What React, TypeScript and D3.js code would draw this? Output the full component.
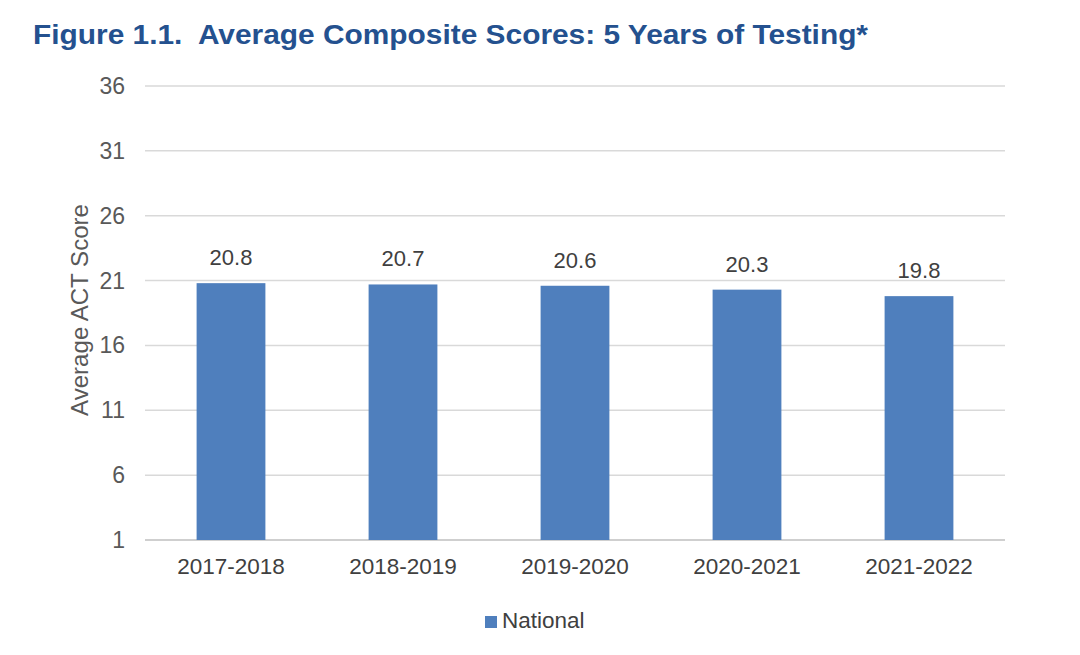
import React, { useEffect, useRef } from "react";
import * as d3 from "d3";

const years = ["2017-2018", "2018-2019", "2019-2020", "2020-2021", "2021-2022"];
const national = [20.8, 20.7, 20.6, 20.3, 19.8];
const yTicks = [1, 6, 11, 16, 21, 26, 31, 36];

const W = 1080;
const H = 655;
const margin = { top: 86, right: 75, bottom: 115, left: 145 };
const font = "Liberation Sans, Arial, sans-serif";

export default function App() {
  const svgRef = useRef<SVGSVGElement>(null);

  useEffect(() => {
    const svg = d3.select(svgRef.current);
    svg.selectAll("*").remove();

    const x = d3
      .scaleBand()
      .domain(years)
      .range([margin.left, W - margin.right])
      .paddingInner(0.6)
      .paddingOuter(0.3);

    const y = d3
      .scaleLinear()
      .domain([1, 36])
      .range([H - margin.bottom, margin.top]);

    svg
      .append("rect")
      .attr("width", W)
      .attr("height", H)
      .attr("fill", "#ffffff");

    // title
    svg
      .append("text")
      .attr("x", 33)
      .attr("y", 44)
      .attr("font-family", font)
      .attr("font-weight", "bold")
      .attr("font-size", 28)
      .attr("textLength", 835)
      .attr("lengthAdjust", "spacingAndGlyphs")
      .attr("fill", "#24518f")
      .attr("xml:space", "preserve")
      .text("Figure 1.1.  Average Composite Scores: 5 Years of Testing*");

    // gridlines
    svg
      .append("g")
      .selectAll("line")
      .data(yTicks)
      .join("line")
      .attr("x1", margin.left)
      .attr("x2", W - margin.right)
      .attr("y1", (d) => y(d))
      .attr("y2", (d) => y(d))
      .attr("stroke", (d) => (d === 1 ? "#bfbfbf" : "#d9d9d9"))
      .attr("stroke-width", 1.5);

    // y tick labels
    svg
      .append("g")
      .selectAll("text")
      .data(yTicks)
      .join("text")
      .attr("x", 125)
      .attr("y", (d) => y(d))
      .attr("dy", "0.35em")
      .attr("text-anchor", "end")
      .attr("font-family", font)
      .attr("font-size", 23)
      .attr("fill", "#595959")
      .text((d) => d);

    // y axis title
    svg
      .append("text")
      .attr("transform", "translate(88,310) rotate(-90)")
      .attr("text-anchor", "middle")
      .attr("font-family", font)
      .attr("font-size", 23)
      .attr("textLength", 212)
      .attr("lengthAdjust", "spacingAndGlyphs")
      .attr("fill", "#595959")
      .text("Average ACT Score");

    // bars
    svg
      .append("g")
      .selectAll("rect")
      .data(national)
      .join("rect")
      .attr("x", (d, i) => x(years[i])!)
      .attr("y", (d) => y(d))
      .attr("width", x.bandwidth())
      .attr("height", (d) => y(1) - y(d))
      .attr("fill", "#4f7fbd");

    // value labels
    svg
      .append("g")
      .selectAll("text")
      .data(national)
      .join("text")
      .attr("x", (d, i) => x(years[i])! + x.bandwidth() / 2)
      .attr("y", (d) => y(d) - 18)
      .attr("text-anchor", "middle")
      .attr("font-family", font)
      .attr("font-size", 22)
      .attr("fill", "#404040")
      .text((d) => d.toFixed(1));

    // x labels
    svg
      .append("g")
      .selectAll("text")
      .data(years)
      .join("text")
      .attr("x", (d) => x(d)! + x.bandwidth() / 2)
      .attr("y", 574)
      .attr("text-anchor", "middle")
      .attr("font-family", font)
      .attr("font-size", 22.5)
      .attr("fill", "#404040")
      .text((d) => d);

    // legend
    const legend = svg.append("g").attr("transform", "translate(485,616)");
    legend
      .append("rect")
      .attr("width", 12)
      .attr("height", 12)
      .attr("fill", "#4f7fbd");
    legend
      .append("text")
      .attr("x", 17)
      .attr("y", 12)
      .attr("font-family", font)
      .attr("font-size", 22.5)
      .attr("fill", "#404040")
      .text("National");
  }, []);

  return (
    <svg
      ref={svgRef}
      width={W}
      height={H}
      style={{ position: "absolute", left: 0, top: 0 }}
    />
  );
}
